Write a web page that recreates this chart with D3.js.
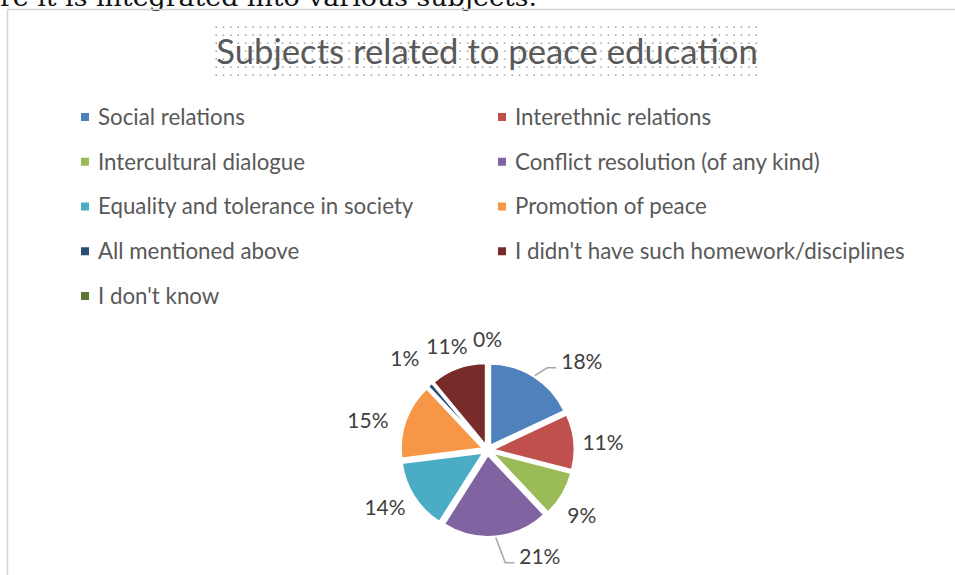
<!DOCTYPE html>
<html>
<head>
<meta charset="utf-8">
<script src="https://cdn.jsdelivr.net/npm/d3@7"></script>
<style>
  html, body { margin: 0; padding: 0; background: #fff; }
  svg { display: block; }
</style>
</head>
<body>
<svg id="chart" width="955" height="575"></svg>
<script>
// ---- data ----
const categories = [
  "Social relations",
  "Interethnic relations",
  "Intercultural dialogue",
  "Conflict resolution (of any kind)",
  "Equality and tolerance in society",
  "Promotion of peace",
  "All mentioned above",
  "I didn't have such homework/disciplines",
  "I don't know"
];
const shares = [18, 11, 9, 21, 14, 15, 1, 11, 0];   // percent
const sliceColors = ["#4F81BD", "#C0504D", "#9BBB59", "#8064A2", "#4BACC6",
                     "#F79646", "#2C4D75", "#772C2A", "#5F7530"];
const titleText = "Subjects related to peace education";
const leadText = "re it is integrated into various subjects.";

// ---- layout ----
const W = 955, H = 575;
const pieCx = 487.5, pieCy = 450, radius = 82, explode = 5;
// data-label centres, polar (degrees clockwise from 12 o'clock, distance from pie centre)
const labelPolar = [[47, 129], [86.5, 115.7], [124.9, 115], [153.9, 119], [240.5, 117.8],
                    [283.6, 123], [318, 123.6], [338.5, 110.7], [360, 110]];

const svg = d3.select("#chart");
svg.append("rect").attr("width", W).attr("height", H).attr("fill", "#fff");

// running document text above the chart frame
svg.append("text")
  .attr("x", 0).attr("y", 6)
  .attr("text-anchor", "start")
  .attr("font-family", "'DejaVu Serif', 'Liberation Serif', serif")
  .attr("font-size", 25)
  .attr("fill", "#111")
  .attr("textLength", 537).attr("lengthAdjust", "spacingAndGlyphs")
  .text(leadText);

// chart frame
svg.append("path")
  .attr("d", `M7.5,${H} V9.5 H${W}`)
  .attr("fill", "none").attr("stroke", "#d4d4d4").attr("stroke-width", 1.5);

// title with dotted text-box fill
const defs = svg.append("defs");
const pat = defs.append("pattern").attr("id", "dots")
  .attr("patternUnits", "userSpaceOnUse")
  .attr("x", 215).attr("y", 26)
  .attr("width", 7.4).attr("height", 8);
pat.append("rect").attr("x", 0.5).attr("y", 0.5).attr("width", 1.3).attr("height", 1.3).attr("fill", "#7a7a7a");
svg.append("rect")
  .attr("x", 214).attr("y", 25).attr("width", 548).attr("height", 56)
  .attr("fill", "url(#dots)");

svg.append("text")
  .attr("x", 487).attr("y", 64)
  .attr("text-anchor", "middle")
  .attr("font-family", "Lato, 'Open Sans', sans-serif")
  .attr("font-size", 34.7)
  .attr("fill", "#595959")
  .text(titleText);

// ---- legend: two columns ----
const legendRows = d3.range(Math.ceil(categories.length / 2));
const legendY = d3.scalePoint().domain(legendRows).range([117, 296]);
const legendX = d3.scalePoint().domain([0, 1]).range([81, 498]);

const legend = svg.append("g").attr("class", "legend");
const items = legend.selectAll("g").data(categories).join("g")
  .attr("transform", (d, i) => `translate(${legendX(i % 2)},${legendY(Math.floor(i / 2))})`);
items.append("rect")
  .attr("x", 0).attr("y", -4).attr("width", 8).attr("height", 8)
  .attr("fill", (d, i) => sliceColors[i]);
items.append("text")
  .attr("x", 17).attr("y", 0).attr("dy", "0.35em")
  .attr("font-family", "Lato, 'Open Sans', sans-serif")
  .attr("font-size", 22.3)
  .attr("fill", "#595959")
  .text(d => d);

// ---- pie ----
const pie = d3.pie().sort(null).value(d => d.v);
const arcs = pie(shares.map((v, i) => ({ v, name: categories[i], i })));
const arc = d3.arc().innerRadius(0).outerRadius(radius);
const rimArc = d3.arc().innerRadius(radius + 1).outerRadius(radius + 1);
const unit = a => { const m = (a.startAngle + a.endAngle) / 2; return [Math.sin(m), -Math.cos(m)]; };

const pieG = svg.append("g").attr("transform", `translate(${pieCx},${pieCy})`);
pieG.selectAll("path.slice").data(arcs).join("path")
  .attr("class", "slice")
  .attr("d", arc)
  .attr("transform", d => { const [ux, uy] = unit(d); return `translate(${ux * explode},${uy * explode})`; })
  .attr("fill", d => sliceColors[d.data.i])
  .attr("stroke", "#fff").attr("stroke-width", 2);

// data labels
const toXY = (deg, r) => [Math.sin(deg * Math.PI / 180) * r, -Math.cos(deg * Math.PI / 180) * r];
const labels = pieG.selectAll("text.lbl").data(arcs).join("text")
  .attr("class", "lbl")
  .attr("x", (d, i) => toXY(labelPolar[i][0], labelPolar[i][1])[0])
  .attr("y", (d, i) => toXY(labelPolar[i][0], labelPolar[i][1])[1])
  .attr("dy", "0.35em")
  .attr("text-anchor", "middle")
  .attr("font-family", "Lato, 'Open Sans', sans-serif")
  .attr("font-size", 21)
  .attr("fill", "#404040")
  .text(d => `${d.data.v}%`);

// leader lines for labels pulled away from their slice
labels.each(function (d, i) {
  const mid = (d.startAngle + d.endAngle) / 2 * 180 / Math.PI;
  if (Math.abs(labelPolar[i][0] - mid) < 10) return;
  const bb = this.getBBox();
  const [ux, uy] = unit(d);
  const [sx, sy] = rimArc.centroid(d);
  const start = [sx + ux * explode, sy + uy * explode];
  const cy = bb.y + bb.height / 2 + 7;
  const left = bb.x;
  pieG.append("path")
    .attr("d", d3.line()([start, [left - 14, cy], [left - 5, cy]]))
    .attr("fill", "none").attr("stroke", "#a6a6a6").attr("stroke-width", 1.5);
});
</script>
</body>
</html>
